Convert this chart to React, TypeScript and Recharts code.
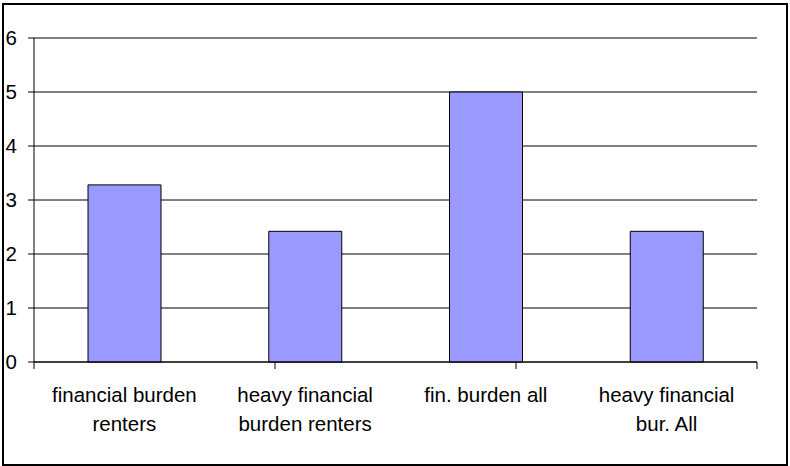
import React from 'react';
import { BarChart, Bar, XAxis, YAxis, CartesianGrid, ReferenceLine } from 'recharts';

const categories = [
  'financial burden\nrenters',
  'heavy financial\nburden renters',
  'fin. burden all',
  'heavy financial\nbur. All',
];
const values = [3.28, 2.42, 5.0, 2.42];
const yTicks = [0, 1, 2, 3, 4, 5, 6];
const edgeTicks = [0, 1, 2, 3, 4];

const data = categories.map((name, i) => ({ name, value: values[i] }));

const FONT = '"Liberation Sans", Arial, sans-serif';

const CategoryTick = (props: any) => {
  const { x, y, payload } = props;
  const lines: string[] = String(payload.value).split('\n');
  return (
    <text x={x} y={y} textAnchor="middle" fontFamily={FONT} fontSize={20.5} fill="#000">
      {lines.map((line, i) => (
        <tspan key={i} x={x} dy={i === 0 ? 31 : 29}>
          {line}
        </tspan>
      ))}
    </text>
  );
};

const NoLabel = () => <g />;

// axis 0 (category boundaries, tick marks only) sits right on the plot, axis 1 holds the labels
const App: React.FC = () => {
  return (
    <div style={{ position: 'absolute', left: 0, top: 0, width: 790, height: 466, background: '#fff' }}>
      <div
        style={{
          position: 'absolute',
          left: 2,
          top: 3,
          width: 786,
          height: 463,
          border: '2px solid #000',
          boxSizing: 'border-box',
        }}
      />
      <div style={{ position: 'absolute', left: 0, top: 0 }}>
        <BarChart
          width={790}
          height={466}
          data={data}
          margin={{ top: 38, right: 33, left: 0, bottom: 0 }}
          barSize={73}
        >
          <CartesianGrid xAxisId={1} vertical={false} stroke="#000" />
          <XAxis
            xAxisId={0}
            type="number"
            domain={[0, 4]}
            ticks={edgeTicks}
            tick={<NoLabel />}
            tickLine={{ stroke: '#000' }}
            axisLine={{ stroke: '#000' }}
            tickSize={7}
            height={1}
          />
          <XAxis
            xAxisId={1}
            dataKey="name"
            interval={0}
            tickLine={false}
            axisLine={false}
            height={103}
            tick={<CategoryTick />}
          />
          <YAxis
            domain={[0, 6]}
            ticks={yTicks}
            width={34}
            tickSize={6}
            tickMargin={11}
            stroke="#000"
            tick={{ fill: '#000', fontSize: 20.5, fontFamily: FONT }}
          />
          <ReferenceLine y={6} stroke="#808080" />
          <ReferenceLine xAxisId={0} x={4} stroke="#808080" />
          <Bar xAxisId={1} dataKey="value" fill="#9999FF" stroke="#000" strokeWidth={1} isAnimationActive={false} />
        </BarChart>
      </div>
    </div>
  );
};

export default App;
